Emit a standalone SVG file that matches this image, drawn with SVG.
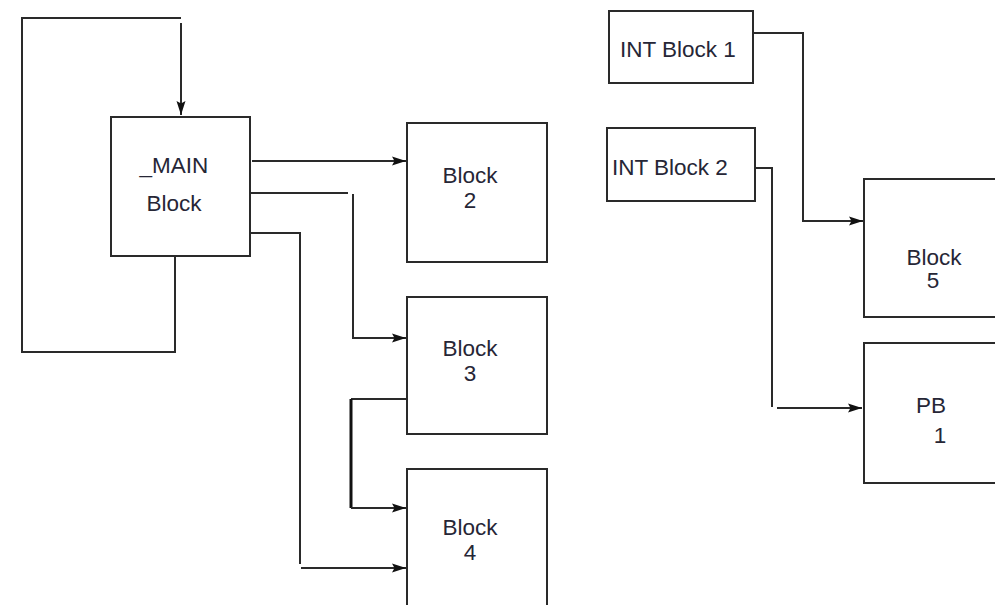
<svg xmlns="http://www.w3.org/2000/svg" width="995" height="605" viewBox="0 0 995 605">
<style>
.box{fill:#fff;stroke:#2a2a2a;stroke-width:2}
.ln{fill:none;stroke:#2a2a2a;stroke-width:2}
.t{font-family:"Liberation Sans",Arial,sans-serif;font-size:22.5px;fill:#262636;text-anchor:middle}
.tl{font-family:"Liberation Sans",Arial,sans-serif;font-size:22.5px;fill:#262636}
</style>
<defs>
<marker id="ah" markerUnits="userSpaceOnUse" markerWidth="16" markerHeight="12" refX="14" refY="6" orient="auto">
<path d="M0,1.5 L2.5,6 L0,10.5 L14,6 Z" fill="#111"/>
</marker>
</defs>
<rect width="995" height="605" fill="#fff"/>
<g id="connectors">
<polyline class="ln" points="175,257 175,352 22,352 22,18 181,18"/>
<line class="ln" x1="181" y1="23" x2="181" y2="115" marker-end="url(#ah)"/>
<polyline class="ln" points="252,161 406,161" marker-end="url(#ah)"/>
<polyline class="ln" points="251,193 348,193"/>
<polyline class="ln" points="353,194 353,338 406,338" marker-end="url(#ah)"/>
<polyline class="ln" points="251,233 300,233 300,564"/>
<polyline class="ln" points="301,568 406,568" marker-end="url(#ah)"/>
<polyline class="ln" points="407,399 351,399"/>
<line x1="351" y1="399" x2="351" y2="508" stroke="#111" stroke-width="3"/>
<polyline class="ln" points="351,508 406,508" marker-end="url(#ah)"/>
<polyline class="ln" points="754,33 803,33 803,221 863,221" marker-end="url(#ah)"/>
<polyline class="ln" points="756,168 772,168 772,407"/>
<polyline class="ln" points="777,408 862,408" marker-end="url(#ah)"/>
</g>
<g id="main">
<rect class="box" x="111" y="117" width="139" height="139"/>
<text class="t" x="174" y="173">_MAIN</text>
<text class="t" x="174" y="211">Block</text>
</g>
<g id="block2">
<rect class="box" x="407" y="123" width="140" height="139"/>
<text class="t" x="470" y="183">Block</text>
<text class="t" x="470" y="208">2</text>
</g>
<g id="block3">
<rect class="box" x="407" y="297" width="140" height="137"/>
<text class="t" x="470" y="356">Block</text>
<text class="t" x="470" y="381">3</text>
</g>
<g id="block4">
<rect class="box" x="407" y="469" width="140" height="150"/>
<text class="t" x="470" y="535">Block</text>
<text class="t" x="470" y="560">4</text>
</g>
<g id="int1">
<rect class="box" x="609" y="11" width="144" height="72"/>
<text class="tl" x="620" y="57">INT Block 1</text>
</g>
<g id="int2">
<rect class="box" x="607" y="128" width="148" height="73"/>
<text class="tl" x="612" y="175">INT Block 2</text>
</g>
<g id="block5">
<rect class="box" x="864" y="179" width="140" height="138"/>
<text class="t" x="934" y="265">Block</text>
<text class="t" x="933" y="288">5</text>
</g>
<g id="pb1">
<rect class="box" x="864" y="343" width="140" height="140"/>
<text class="t" x="931" y="413">PB</text>
<text class="t" x="940" y="443">1</text>
</g>
</svg>
